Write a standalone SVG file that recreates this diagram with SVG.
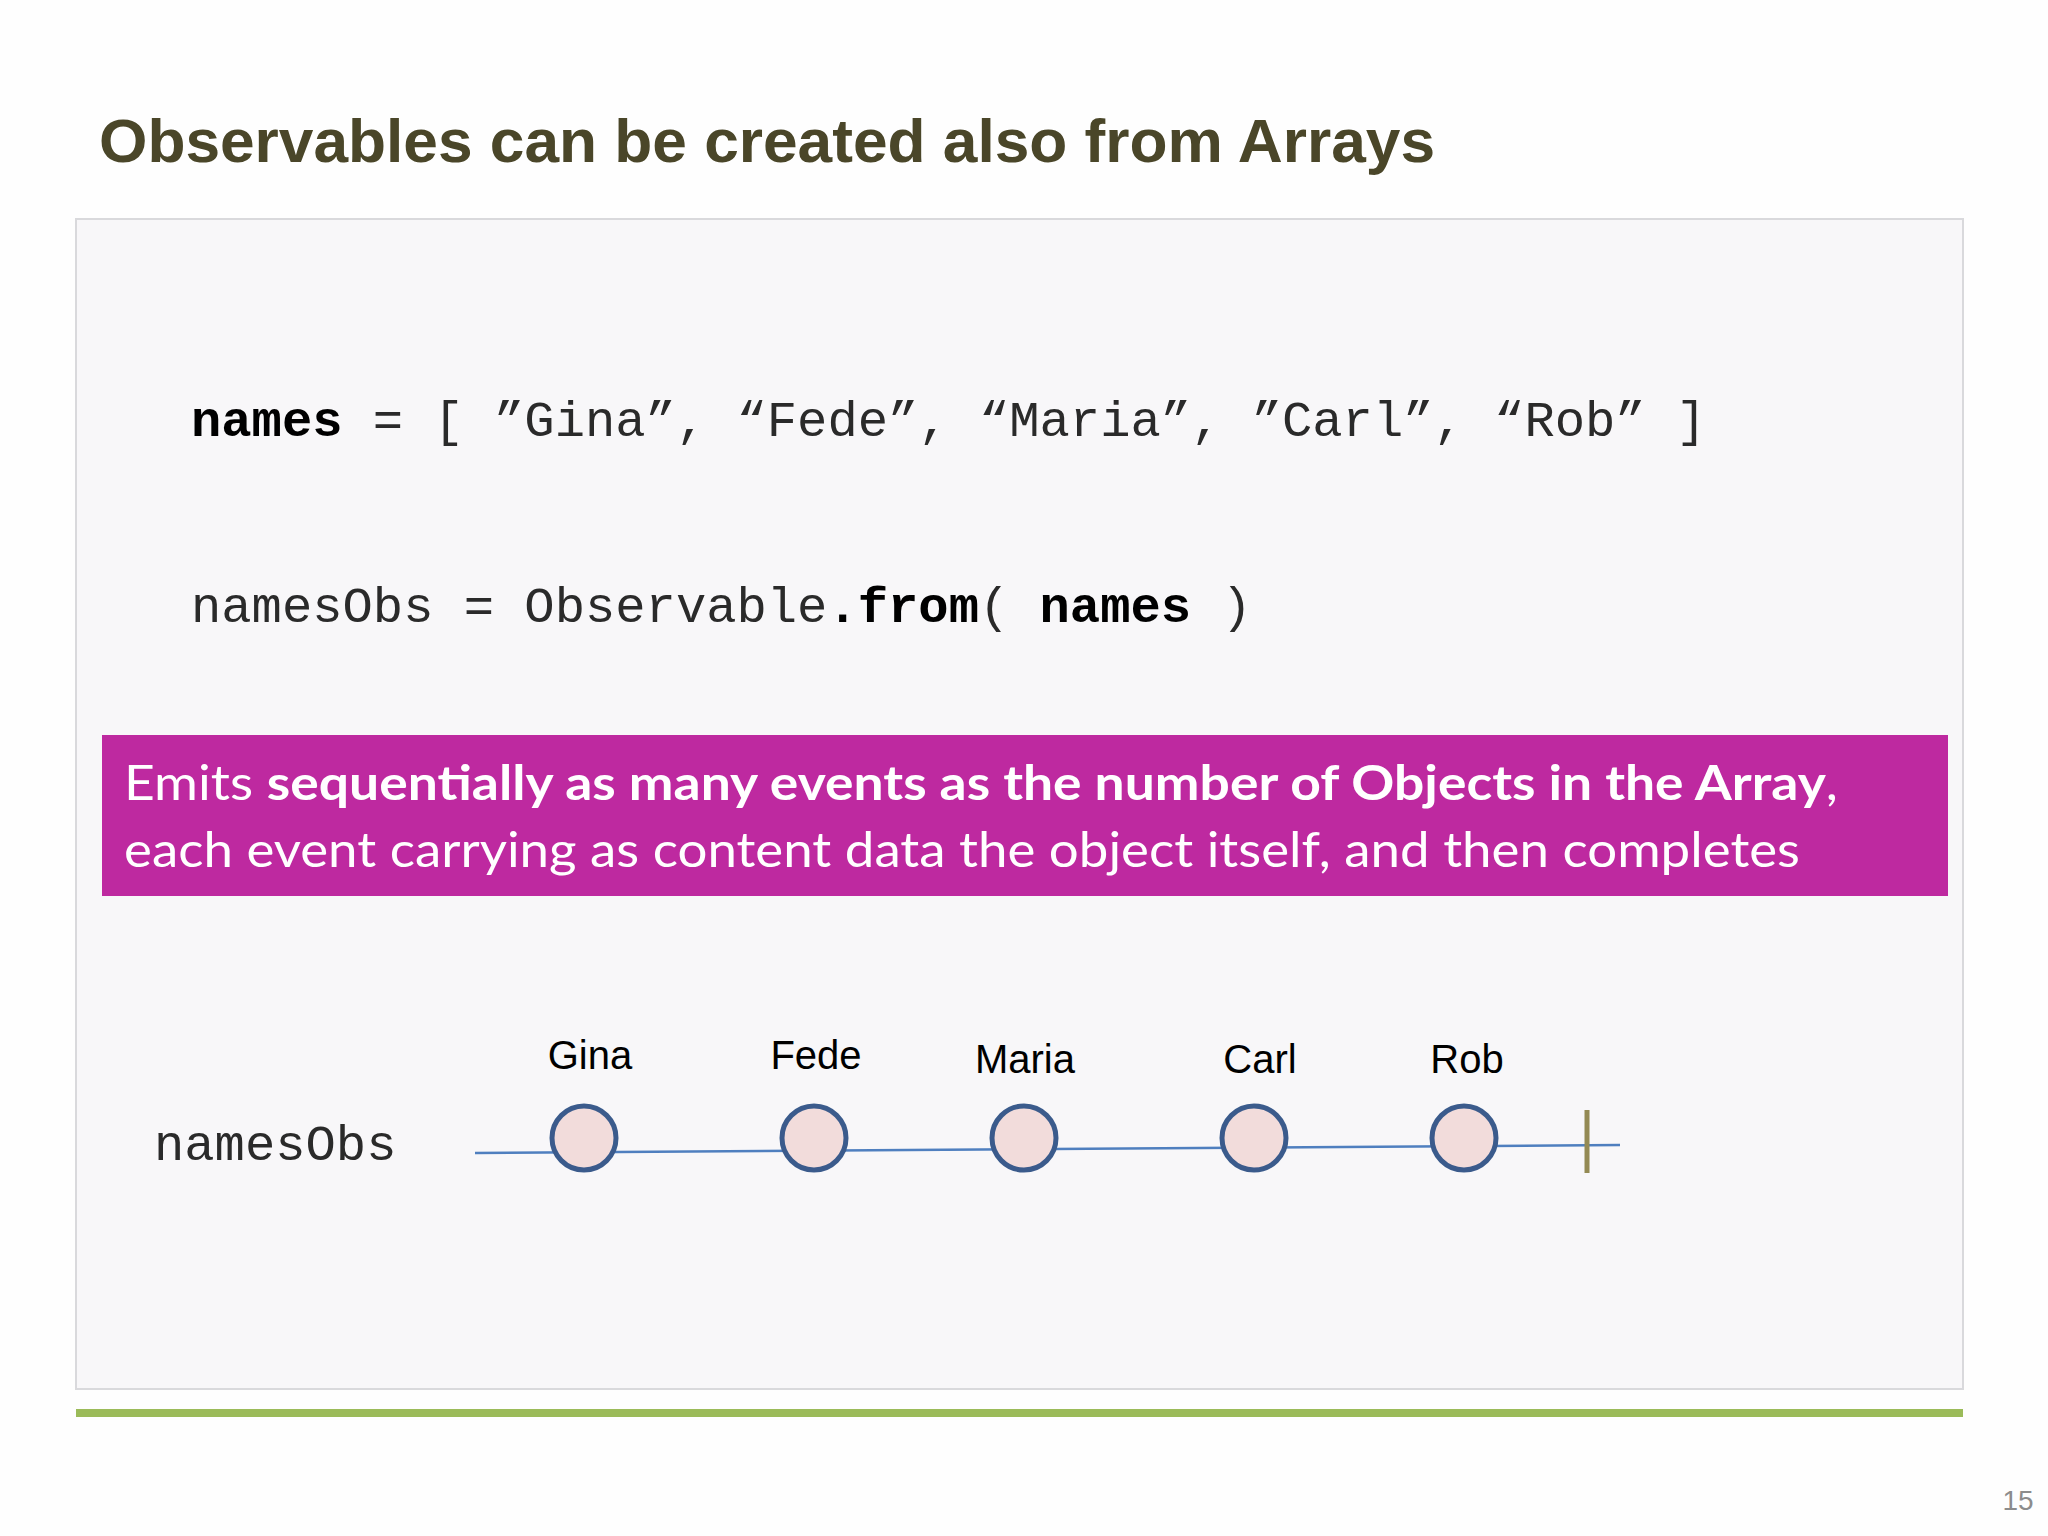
<svg xmlns="http://www.w3.org/2000/svg" width="2048" height="1536" viewBox="0 0 2048 1536">
<style>
.code{font-family:"Liberation Mono","Courier New",monospace;font-size:50.5px;fill:#2a2a2a}
.b{font-weight:bold;fill:#000}
.lbl{font-family:"Liberation Sans",Arial,sans-serif;font-size:40px;fill:#000;text-anchor:middle}
.ev{fill:#f2dcdb;stroke:#3b5b8c;stroke-width:5}
.note{font-family:Lato,"Open Sans",sans-serif;font-size:48px;fill:#fff}
</style>
<rect width="2048" height="1536" fill="#fefefe"/>
<g id="title">
<text x="99" y="162" font-family="Liberation Sans,Arial,sans-serif" font-weight="bold" font-size="62" fill="#4a4629" textLength="1336" lengthAdjust="spacingAndGlyphs">Observables can be created also from Arrays</text>
</g>
<g id="panel">
<rect x="76" y="219" width="1887" height="1170" fill="#f8f7f9" stroke="#d9d9dc" stroke-width="2"/>
</g>
<g id="code">
<text class="code" x="191" y="436"><tspan class="b">names</tspan> = [ ”Gina”, “Fede”, “Maria”, ”Carl”, “Rob” ]</text>
<text class="code" x="191" y="622">namesObs = Observable<tspan class="b">.from</tspan>( <tspan class="b">names</tspan> )</text>
</g>
<g id="note">
<rect x="102" y="735" width="1846" height="161" fill="#be29a0"/>
<text class="note" x="124" y="800" textLength="1714" lengthAdjust="spacingAndGlyphs">Emits <tspan font-weight="bold">sequentially as many events as the number of Objects in the Array</tspan>,</text>
<text class="note" x="124" y="867" textLength="1676" lengthAdjust="spacingAndGlyphs">each event carrying as content data the object itself, and then completes</text>
</g>
<g id="connectors">
<line x1="475" y1="1153" x2="1620" y2="1145" stroke="#4f7fbf" stroke-width="2.5"/>
<line x1="1587" y1="1110" x2="1587" y2="1173" stroke="#948a54" stroke-width="5"/>
</g>
<g id="stream-label">
<text class="code" x="154" y="1160">namesObs</text>
</g>
<g id="ev-gina"><circle class="ev" cx="584" cy="1138" r="32"/><text class="lbl" x="590" y="1069">Gina</text></g>
<g id="ev-fede"><circle class="ev" cx="814" cy="1138" r="32"/><text class="lbl" x="816" y="1069">Fede</text></g>
<g id="ev-maria"><circle class="ev" cx="1024" cy="1138" r="32"/><text class="lbl" x="1025" y="1073">Maria</text></g>
<g id="ev-carl"><circle class="ev" cx="1254" cy="1138" r="32"/><text class="lbl" x="1260" y="1073">Carl</text></g>
<g id="ev-rob"><circle class="ev" cx="1464" cy="1138" r="32"/><text class="lbl" x="1467" y="1073">Rob</text></g>
<g id="footer">
<rect x="76" y="1409" width="1887" height="8" fill="#9bbb59"/>
<text x="2018" y="1510" font-family="Liberation Sans,Arial,sans-serif" font-size="28" fill="#8c8c8c" text-anchor="middle">15</text>
</g>
</svg>
